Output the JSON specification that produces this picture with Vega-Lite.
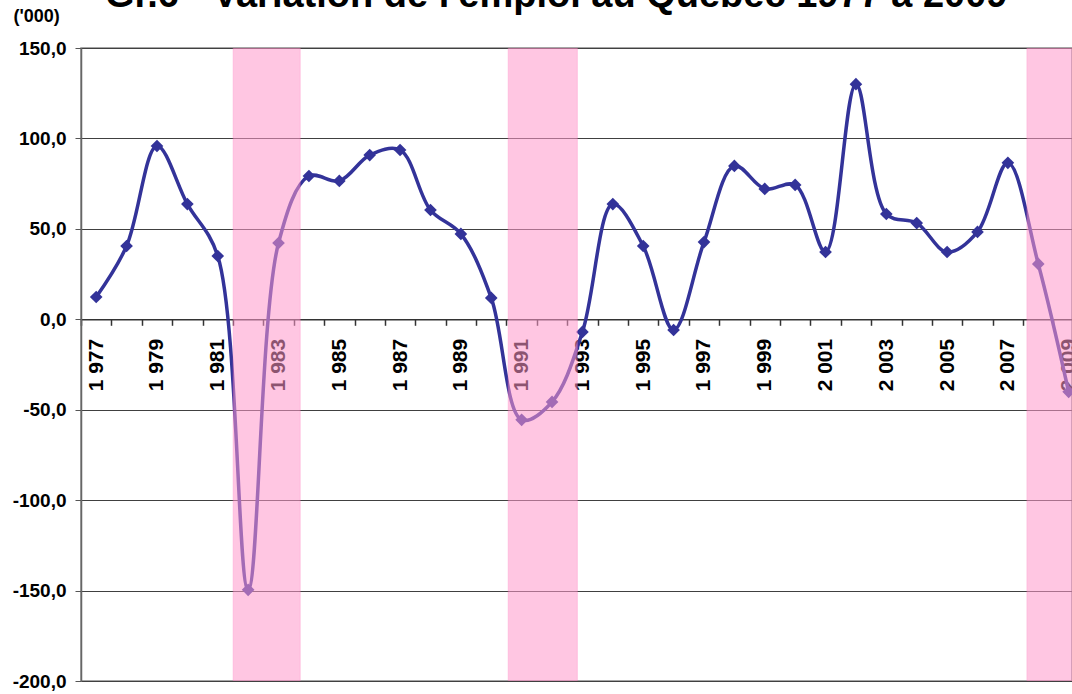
{
  "$schema": "https://vega.github.io/schema/vega-lite/v6.json",
  "autosize": "none",
  "width": 991,
  "height": 633,
  "padding": {"left": 81, "top": 48, "right": 0, "bottom": 13},
  "background": "white",
  "config": {
    "font": "Liberation Sans",
    "view": {"stroke": "#888888", "strokeWidth": 1.5}
  },
  "title": {
    "text": "Gr.6 - Variation de l'emploi au Québec 1977 à 2009",
    "anchor": "start",
    "frame": "group",
    "dx": 24,
    "dy": 38,
    "fontSize": 38,
    "fontWeight": "bold",
    "font": "Liberation Sans",
    "color": "black",
    "baseline": "alphabetic",
    "offset": 0
  },
  "datasets": {
    "emploi": [
      {"annee": 1977, "variation": 12.3},
      {"annee": 1978, "variation": 40.5},
      {"annee": 1979, "variation": 95.8},
      {"annee": 1980, "variation": 63.7},
      {"annee": 1981, "variation": 35.0},
      {"annee": 1982, "variation": -149.6},
      {"annee": 1983, "variation": 42.2},
      {"annee": 1984, "variation": 79.2},
      {"annee": 1985, "variation": 76.5},
      {"annee": 1986, "variation": 90.8},
      {"annee": 1987, "variation": 93.6},
      {"annee": 1988, "variation": 60.4},
      {"annee": 1989, "variation": 47.2},
      {"annee": 1990, "variation": 11.8},
      {"annee": 1991, "variation": -55.6},
      {"annee": 1992, "variation": -45.7},
      {"annee": 1993, "variation": -7.0},
      {"annee": 1994, "variation": 63.7},
      {"annee": 1995, "variation": 40.5},
      {"annee": 1996, "variation": -5.9},
      {"annee": 1997, "variation": 42.7},
      {"annee": 1998, "variation": 84.8},
      {"annee": 1999, "variation": 72.1},
      {"annee": 2000, "variation": 74.3},
      {"annee": 2001, "variation": 37.2},
      {"annee": 2002, "variation": 130.0},
      {"annee": 2003, "variation": 58.2},
      {"annee": 2004, "variation": 53.2},
      {"annee": 2005, "variation": 37.2},
      {"annee": 2006, "variation": 48.3},
      {"annee": 2007, "variation": 86.5},
      {"annee": 2008, "variation": 30.6},
      {"annee": 2009, "variation": -40.1}
    ],
    "recessions": [
      {"debut": 1981.51, "fin": 1983.71},
      {"debut": 1990.56, "fin": 1992.83},
      {"debut": 2007.63, "fin": 2010.0}
    ]
  },
  "layer": [
    {
      "data": {"name": "emploi"},
      "mark": {"type": "line", "interpolate": "catmull-rom", "color": "#333399", "strokeWidth": 3.5, "clip": true},
      "encoding": {
        "x": {
          "field": "annee", "type": "quantitative",
          "scale": {"domain": [1976.5, 2009.11], "nice": false, "zero": false},
          "axis": {
            "orient": "bottom",
            "title": null,
            "values": [1977, 1979, 1981, 1983, 1985, 1987, 1989, 1991, 1993, 1995, 1997, 1999, 2001, 2003, 2005, 2007, 2009],
            "labelExpr": "slice(toString(datum.value), 0, 1) + ' ' + slice(toString(datum.value), 1)",
            "offset": -361.7,
            "ticks": false,
            "tickSize": 0,
            "domain": false,
            "grid": false,
            "labelAngle": 270,
            "labelAlign": "right",
            "labelBaseline": "middle",
            "labelPadding": 19,
            "labelFontSize": 21,
            "labelFontWeight": "bold",
            "labelFont": "Liberation Sans",
            "labelColor": "black",
            "labelOverlap": false,
            "labelBound": false,
            "labelFlush": false,
            "zindex": 0
          }
        },
        "y": {
          "field": "variation", "type": "quantitative",
          "scale": {"domain": [-200, 150], "nice": false, "zero": false},
          "axis": {
            "title": "('000)",
            "titleAngle": 0,
            "titleAlign": "left",
            "titleBaseline": "alphabetic",
            "titleX": -68,
            "titleY": -27,
            "titleFontSize": 18,
            "titleFontWeight": "bold",
            "titleFont": "Liberation Sans",
            "titleColor": "black",
            "values": [-200, -150, -100, -50, 0, 50, 100, 150],
            "labelExpr": "(datum.value < 0 ? '-' : '') + abs(datum.value) + ',0'",
            "labelFontSize": 19,
            "labelFontWeight": "bold",
            "labelFont": "Liberation Sans",
            "labelColor": "black",
            "labelPadding": 9,
            "tickSize": 6,
            "tickColor": "#555555",
            "domainColor": "#666666",
            "domainWidth": 1.5,
            "grid": true,
            "gridColor": "#404040",
            "gridWidth": 1,
            "zindex": 0
          }
        }
      }
    },
    {
      "data": {"name": "emploi"},
      "mark": {"type": "point", "shape": "diamond", "filled": true, "color": "#333399", "size": 160, "opacity": 1, "clip": true},
      "encoding": {
        "x": {"field": "annee", "type": "quantitative", "axis": null},
        "y": {"field": "variation", "type": "quantitative"}
      }
    },
    {
      "data": {"name": "recessions"},
      "mark": {"type": "rect", "color": "#ff99cc", "opacity": 0.55, "stroke": "#ff77bb", "strokeWidth": 1, "strokeOpacity": 0.8, "clip": true},
      "encoding": {
        "x": {
          "field": "debut", "type": "quantitative",
          "axis": {
            "orient": "bottom",
            "title": null,
            "values": [1976.5, 1977.5, 1978.5, 1979.5, 1980.5, 1981.5, 1982.5, 1983.5, 1984.5, 1985.5, 1986.5, 1987.5, 1988.5, 1989.5, 1990.5, 1991.5, 1992.5, 1993.5, 1994.5, 1995.5, 1996.5, 1997.5, 1998.5, 1999.5, 2000.5, 2001.5, 2002.5, 2003.5, 2004.5, 2005.5, 2006.5, 2007.5, 2008.5],
            "labels": false,
            "offset": -361.7,
            "ticks": true,
            "tickSize": 6,
            "tickColor": "#333333",
            "tickWidth": 1.5,
            "domain": true,
            "domainColor": "#333333",
            "domainWidth": 1.5,
            "grid": false,
            "zindex": 0
          }
        },
        "x2": {"field": "fin"}
      }
    }
  ],
  "resolve": {"axis": {"x": "independent"}}
}
